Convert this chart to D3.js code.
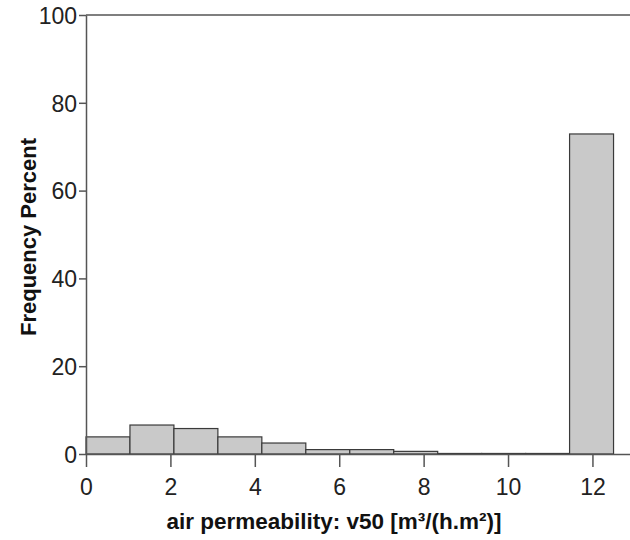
<!DOCTYPE html>
<html><head><meta charset="utf-8">
<script src="https://cdn.jsdelivr.net/npm/d3@7"></script>
<style>body{margin:0;background:#fff}text{font-family:"Liberation Sans",Arial,sans-serif}</style>
</head><body><svg id="c" width="630" height="540"></svg>
<script>
const binWidth = 12.5/12;
const binStarts = [0,1,2,3,4,5,6,7,8,9,10,11].map(i=>i*binWidth);
const percents = [3.9, 6.6, 5.8, 3.9, 2.5, 1.0, 1.0, 0.6, 0.12, 0.12, 0.12, 72.9];
const xTicks = [0,2,4,6,8,10,12];
const yTicks = [0,20,40,60,80,100];
const xTitle = "air permeability: v50 [m³/(h.m²)]";
const yTitle = "Frequency Percent";

const svg = d3.select("#c");
const x = d3.scaleLinear().domain([0, 12.89]).range([86, 630]);
const y = d3.scaleLinear().domain([0, 100]).range([454, 15]);
const axisCol = "#555";

svg.append("g").selectAll("rect").data(percents).join("rect")
  .attr("x", (d,i)=>x(binStarts[i]))
  .attr("width", x(binWidth)-x(0))
  .attr("y", d=>y(d))
  .attr("height", d=>y(0)-y(d))
  .attr("fill", "#c9c9c9").attr("stroke", "#3a3a3a").attr("stroke-width", 1.2);

svg.append("line").attr("x1", 86).attr("x2", 630).attr("y1", y(100)).attr("y2", y(100))
  .attr("stroke", axisCol).attr("stroke-width", 1.5);

const gx = svg.append("g").attr("transform", `translate(0,${y(0)})`)
  .call(d3.axisBottom(x).tickValues(xTicks).tickSize(13).tickSizeOuter(0).tickPadding(12));
const gy = svg.append("g").attr("transform", `translate(${x(0)},0)`)
  .call(d3.axisLeft(y).tickValues(yTicks).tickSize(7).tickSizeOuter(0).tickPadding(2));
[gx, gy].forEach(g=>{
  g.selectAll("path,line").attr("stroke", axisCol).attr("stroke-width", 1.5);
  g.selectAll("text").attr("font-size", 23).attr("fill", "#222")
   .style("font-family", '"Liberation Sans",Arial,sans-serif');
});
gy.selectAll("text").attr("dy", "0.36em");

svg.append("text").attr("x", 334).attr("y", 529).attr("text-anchor", "middle")
  .attr("font-size", 22.5).attr("font-weight", "bold").attr("fill", "#111").text(xTitle);
svg.append("text").attr("transform", "translate(36,237) rotate(-90)").attr("text-anchor", "middle")
  .attr("font-size", 22).attr("font-weight", "bold").attr("fill", "#111").text(yTitle);
</script></body></html>
